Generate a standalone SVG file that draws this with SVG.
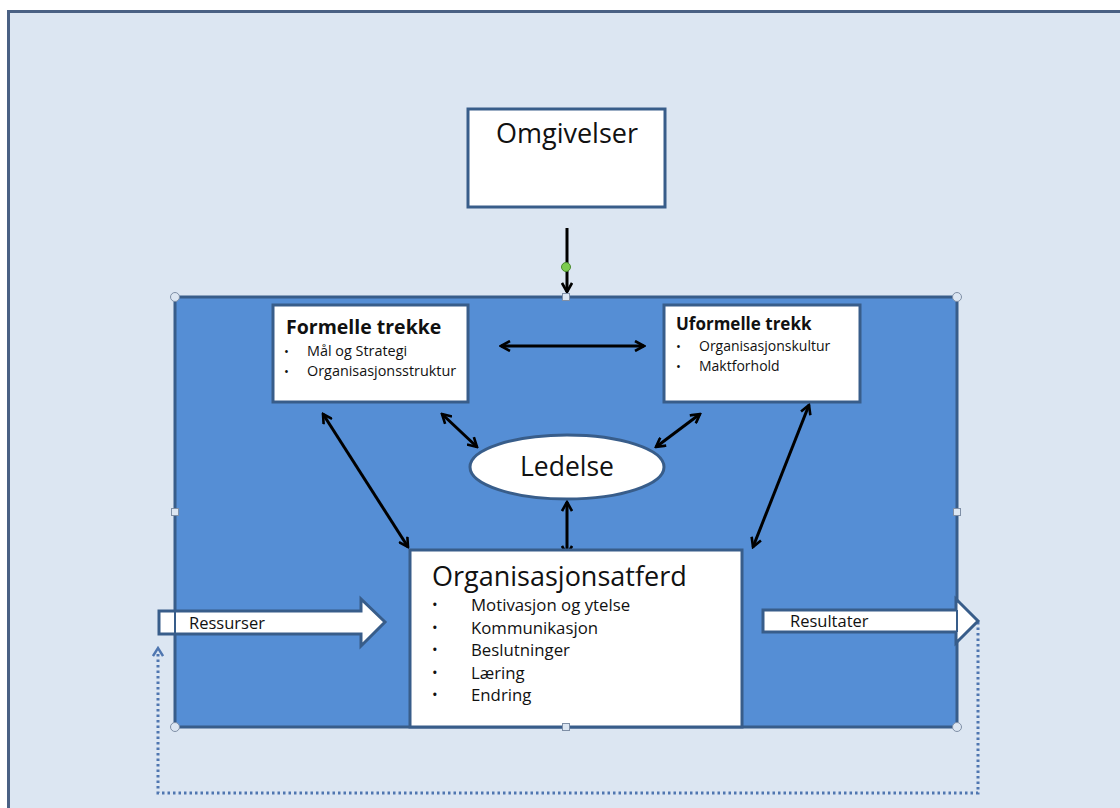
<svg xmlns="http://www.w3.org/2000/svg" width="1120" height="808" viewBox="0 0 1120 808">
<defs>
<marker id="v" viewBox="0 0 12 12" refX="10" refY="6" markerWidth="12" markerHeight="12" markerUnits="userSpaceOnUse" orient="auto-start-reverse">
<path d="M1,1 L10,6 L1,11" fill="none" stroke="#000" stroke-width="2.6"/>
</marker>
<marker id="vb" viewBox="0 0 12 12" refX="6" refY="6" markerWidth="12" markerHeight="12" markerUnits="userSpaceOnUse" orient="auto-start-reverse">
<path d="M2,1 L10,6 L2,11" fill="none" stroke="#4f76b0" stroke-width="2.4"/>
</marker>
<style>
.box{fill:#fff;stroke:#385d8a;stroke-width:3}
.t{font-family:"Open Sans","Liberation Sans",sans-serif;fill:#111}
.con{stroke:#000;stroke-width:3;fill:none;marker-start:url(#v);marker-end:url(#v)}
.h{fill:#dce6f2;stroke:#7f8fa6;stroke-width:1}
</style>
</defs>
<rect x="0" y="0" width="1120" height="808" fill="#fff"/>
<rect x="8.5" y="11.5" width="1200" height="900" fill="#dce6f2" stroke="#4a6184" stroke-width="3"/>
<g id="main">
<rect x="175" y="297" width="782" height="430" fill="#558ed5" stroke="#385d8a" stroke-width="3"/>
</g>
<g id="connectors">
<line x1="567" y1="228" x2="567" y2="292" stroke="#000" stroke-width="3" marker-end="url(#v)"/>
<line class="con" x1="501" y1="346" x2="644" y2="346"/>
<line class="con" x1="323" y1="414" x2="408" y2="547"/>
<line class="con" x1="442" y1="414" x2="477" y2="447"/>
<line class="con" x1="700" y1="414" x2="656" y2="447"/>
<line class="con" x1="809" y1="405" x2="753" y2="547"/>
<line class="con" x1="567" y1="502" x2="567" y2="555"/>
<polyline points="978,622 978,793 158,793 158,652" fill="none" stroke="#4f76b0" stroke-width="3" stroke-dasharray="2.5 3" marker-end="url(#vb)"/>
</g>
<g id="omgivelser">
<rect class="box" x="468" y="109" width="197" height="98"/>
<text class="t" x="567" y="143" font-size="27" text-anchor="middle">Omgivelser</text>
</g>
<g id="formelle">
<rect class="box" x="273" y="305" width="195" height="97"/>
<text class="t" x="286" y="334" font-size="19.5" font-weight="bold">Formelle trekke</text>
<text class="t" x="284" y="356" font-size="13">•</text>
<text class="t" x="307" y="356" font-size="14.4">Mål og Strategi</text>
<text class="t" x="284" y="376" font-size="13">•</text>
<text class="t" x="307" y="376" font-size="14.4">Organisasjonsstruktur</text>
</g>
<g id="uformelle">
<rect class="box" x="664" y="305" width="196" height="97"/>
<text class="t" x="676" y="330" font-size="17" font-weight="bold">Uformelle trekk</text>
<text class="t" x="676" y="351" font-size="13">•</text>
<text class="t" x="699" y="351" font-size="14">Organisasjonskultur</text>
<text class="t" x="676" y="371" font-size="13">•</text>
<text class="t" x="699" y="371" font-size="14">Maktforhold</text>
</g>
<g id="ledelse">
<ellipse cx="567" cy="467" rx="97" ry="32" fill="#fff" stroke="#385d8a" stroke-width="3"/>
<text class="t" x="567" y="476" font-size="26.5" text-anchor="middle">Ledelse</text>
</g>
<g id="atferd">
<rect class="box" x="410" y="550" width="332" height="177"/>
<text class="t" x="432" y="586" font-size="27">Organisasjonsatferd</text>
<text class="t" x="432" y="610" font-size="15">•</text><text class="t" x="471" y="611" font-size="16.8">Motivasjon og ytelse</text>
<text class="t" x="432" y="633" font-size="15">•</text><text class="t" x="471" y="634" font-size="16.8">Kommunikasjon</text>
<text class="t" x="432" y="655" font-size="15">•</text><text class="t" x="471" y="656" font-size="16.8">Beslutninger</text>
<text class="t" x="432" y="678" font-size="15">•</text><text class="t" x="471" y="679" font-size="16.8">Læring</text>
<text class="t" x="432" y="700" font-size="15">•</text><text class="t" x="471" y="701" font-size="16.8">Endring</text>
</g>
<g id="ressurser">
<polygon points="159,611 361,611 361,599 385,622 361,646 361,634 159,634" fill="#fff" stroke="#385d8a" stroke-width="3"/>
<line x1="175" y1="611" x2="175" y2="634" stroke="#385d8a" stroke-width="2"/>
<text class="t" x="189" y="629" font-size="16.5">Ressurser</text>
</g>
<g id="resultater">
<polygon points="763,610 956,610 956,599 978,621 956,643 956,632 763,632" fill="#fff" stroke="#385d8a" stroke-width="3"/>
<line x1="957" y1="610" x2="957" y2="632" stroke="#385d8a" stroke-width="2"/>
<text class="t" x="790" y="627" font-size="16.5">Resultater</text>
</g>
<g id="handles">
<circle cx="175" cy="297" r="4.5" class="h"/>
<circle cx="957" cy="297" r="4.5" class="h"/>
<circle cx="175" cy="727" r="4.5" class="h"/>
<circle cx="957" cy="727" r="4.5" class="h"/>
<rect x="562.5" y="293.5" width="7" height="7" class="h"/>
<rect x="562.5" y="723.5" width="7" height="7" class="h"/>
<rect x="171.5" y="508.5" width="7" height="7" class="h"/>
<rect x="953.5" y="508.5" width="7" height="7" class="h"/>
<circle cx="566" cy="267" r="4.5" fill="#7ccc4e" stroke="#4a8a2e" stroke-width="1"/>
</g>
</svg>
